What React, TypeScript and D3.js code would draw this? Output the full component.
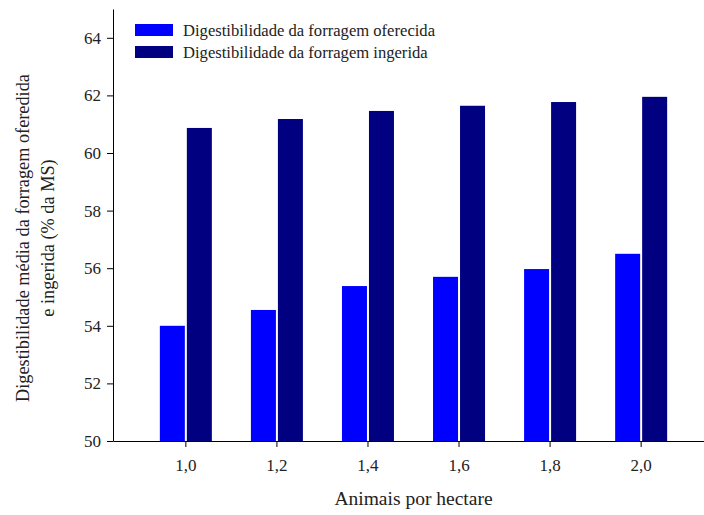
import React, { useRef, useEffect } from 'react';
import * as d3 from 'd3';

const categories = ['1,0', '1,2', '1,4', '1,6', '1,8', '2,0'];
const oferecida = [54.0, 54.55, 55.38, 55.7, 55.97, 56.5];
const ingerida = [60.87, 61.18, 61.46, 61.64, 61.77, 61.95];
const yTicks = [50, 52, 54, 56, 58, 60, 62, 64];
const seriesNames = ['Digestibilidade da forragem oferecida', 'Digestibilidade da forragem ingerida'];
const colors = ['#0000ff', '#000080'];

const FONT = 'Liberation Serif';

const App: React.FC = () => {
  const svgRef = useRef<SVGSVGElement>(null);

  useEffect(() => {
    const svg = d3.select(svgRef.current);
    svg.selectAll('*').remove();

    const left = 113, right = 714, top = 9, bottom = 441;

    const x = d3.scaleBand<string>()
      .domain(categories)
      .range([left, right])
      .paddingOuter(0.3)
      .paddingInner(0);

    const y = d3.scaleLinear().domain([50, 65]).range([bottom, top]);

    const barW = 25;
    const gap = 2;

    // bars
    const g = svg.append('g');
    [oferecida, ingerida].forEach((vals, si) => {
      g.selectAll(`.bar-${si}`)
        .data(vals)
        .enter().append('rect')
        .attr('class', `bar-${si}`)
        .attr('x', (_, i) => {
          const c = x(categories[i])! + x.bandwidth() / 2;
          return si === 0 ? c - gap / 2 - barW : c + gap / 2;
        })
        .attr('y', d => y(d))
        .attr('width', barW)
        .attr('height', d => y(50) - y(d))
        .attr('fill', colors[si]);
    });

    // y axis
    const yAxis = svg.append('g')
      .attr('transform', `translate(${left},0)`)
      .call(d3.axisLeft(y).tickValues(yTicks).tickSize(6).tickSizeOuter(0).tickPadding(6))
      .attr('font-family', FONT)
      .attr('font-size', 17);
    yAxis.select('.domain').attr('stroke', '#000');
    yAxis.selectAll('.tick line').attr('stroke', '#000');
    yAxis.selectAll('text').attr('fill', '#222');

    // x axis
    const xAxis = svg.append('g')
      .attr('transform', `translate(0,${bottom})`)
      .call(d3.axisBottom(x).tickSize(6).tickSizeOuter(0).tickPadding(12))
      .attr('font-family', FONT)
      .attr('font-size', 17);
    xAxis.select('.domain').attr('stroke', '#000');
    xAxis.selectAll('.tick line').attr('stroke', '#000');
    xAxis.selectAll('text').attr('fill', '#222');

    // axis titles
    svg.append('text')
      .attr('x', (left + right) / 2)
      .attr('y', 505)
      .attr('text-anchor', 'middle')
      .attr('font-family', FONT)
      .attr('font-size', 19.5)
      .attr('fill', '#222')
      .text('Animais por hectare');

    const yt = svg.append('text')
      .attr('transform', `translate(29, 238) rotate(-90)`)
      .attr('text-anchor', 'middle')
      .attr('font-family', FONT)
      .attr('font-size', 18.3)
      .attr('fill', '#222');
    yt.append('tspan').attr('x', 0).attr('dy', 0).text('Digestibilidade média da forragem oferedida');
    yt.append('tspan').attr('x', 0).attr('dy', 25).text('e ingerida (% da MS)');

    // legend
    const legend = svg.append('g').attr('transform', 'translate(135, 24)');
    seriesNames.forEach((name, i) => {
      legend.append('rect')
        .attr('x', 0)
        .attr('y', i * 22)
        .attr('width', 38)
        .attr('height', 12)
        .attr('fill', colors[i]);
      legend.append('text')
        .attr('x', 48)
        .attr('y', i * 22 + 6)
        .attr('dy', '0.35em')
        .attr('font-family', FONT)
        .attr('font-size', 16.6)
        .attr('fill', '#222')
        .text(name);
    });
  }, []);

  return (
    <svg ref={svgRef} width={704} height={515} style={{ display: 'block', position: 'absolute', left: 0, top: 0, background: '#fff' }} />
  );
};

export default App;
